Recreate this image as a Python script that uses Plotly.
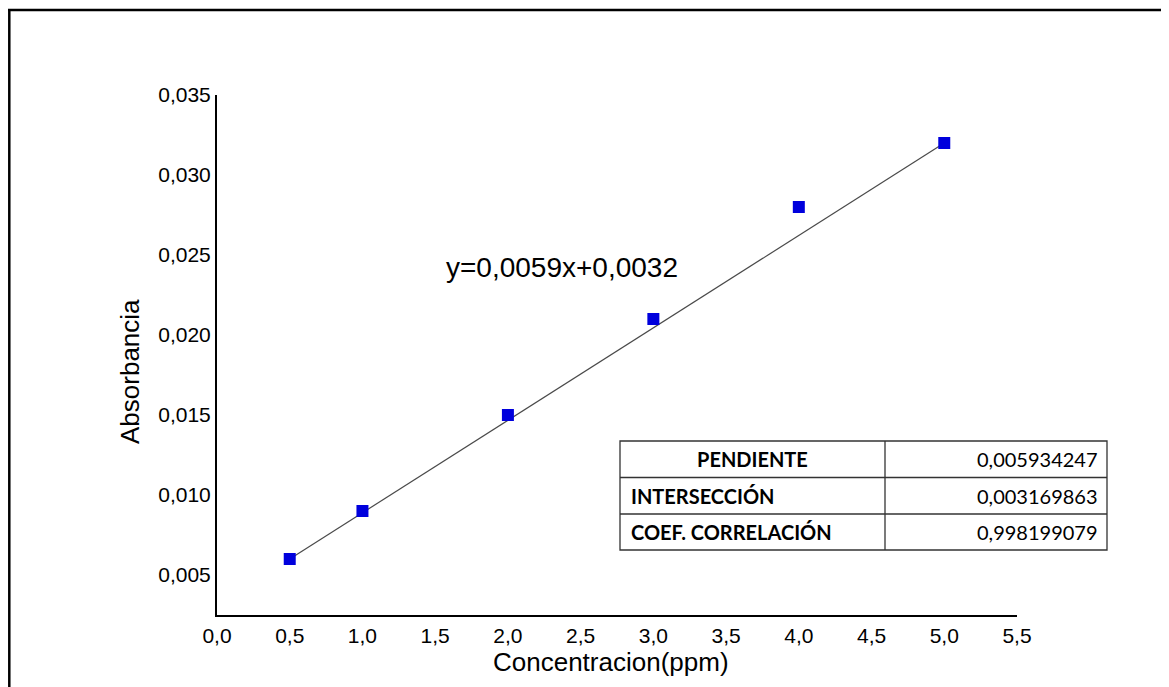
import plotly.graph_objects as go

# Data
concentration = [0.5, 1.0, 2.0, 3.0, 4.0, 5.0]
absorbance = [0.006, 0.009, 0.015, 0.021, 0.028, 0.032]
equation_label = "y=0,0059x+0,0032"
table_labels = ["PENDIENTE", "INTERSECCIÓN", "COEF. CORRELACIÓN"]
table_values = ["0,005934247", "0,003169863", "0,998199079"]
x_ticks = [0.0, 0.5, 1.0, 1.5, 2.0, 2.5, 3.0, 3.5, 4.0, 4.5, 5.0, 5.5]
y_ticks = [0.005, 0.010, 0.015, 0.020, 0.025, 0.030, 0.035]

OFF = 8  # page body margin
W, H = 1169 - OFF, 687 - OFF
# plot area in page pixels: x 217..1017, y 95..615
ML, MT = 217 - OFF, 95 - OFF
MR = W - (1017 - OFF)
MB = H - (615 - OFF)
PW, PH = W - ML - MR, H - MT - MB


def px(x):
    return (x - OFF - ML) / PW


def py(y):
    return (H - MB - (y - OFF)) / PH


fig = go.Figure()
fig.add_trace(go.Scatter(x=[concentration[0], concentration[-1]],
                         y=[absorbance[0], absorbance[-1]], mode="lines",
                         line=dict(color="#4a4a4a", width=1.2), showlegend=False,
                         hoverinfo="skip"))
fig.add_trace(go.Scatter(x=concentration, y=absorbance, mode="markers",
                         marker=dict(symbol="square", size=12, color="#0000dd",
                                     line=dict(width=0)),
                         showlegend=False))

shapes = []
annotations = []

# outer frame (top and left edges)
shapes.append(dict(type="line", xref="paper", yref="paper",
                   x0=px(6), x1=px(1175), y0=py(10), y1=py(10),
                   line=dict(color="black", width=2.5)))
shapes.append(dict(type="line", xref="paper", yref="paper",
                   x0=px(9.3), x1=px(9.3), y0=py(9), y1=py(700),
                   line=dict(color="black", width=2.5)))

# table
tl, tdiv, tr = 620, 885, 1107
rows = [441, 477.5, 514, 550]
tcol = "#333333"
shapes.append(dict(type="rect", xref="paper", yref="paper",
                   x0=px(tl), x1=px(tr), y0=py(rows[0]), y1=py(rows[-1]),
                   line=dict(color=tcol, width=1.3)))
shapes.append(dict(type="line", xref="paper", yref="paper",
                   x0=px(tdiv), x1=px(tdiv), y0=py(rows[0]), y1=py(rows[-1]),
                   line=dict(color=tcol, width=1.3)))
for r in rows[1:-1]:
    shapes.append(dict(type="line", xref="paper", yref="paper",
                       x0=px(tl), x1=px(tr), y0=py(r), y1=py(r),
                       line=dict(color=tcol, width=1.3)))
tfont = dict(family="Lato", size=20, color="black")
for i, (lab, val) in enumerate(zip(table_labels, table_values)):
    yc = py((rows[i] + rows[i + 1]) / 2)
    if i == 0:
        annotations.append(dict(text="<b>" + lab + "</b>", xref="paper", yref="paper",
                                x=px((tl + tdiv) / 2), y=yc, xanchor="center",
                                yanchor="middle", showarrow=False, font=tfont))
    else:
        annotations.append(dict(text="<b>" + lab + "</b>", xref="paper", yref="paper",
                                x=px(tl + 9), y=yc, xanchor="left",
                                yanchor="middle", showarrow=False, font=tfont))
    annotations.append(dict(text=val, xref="paper", yref="paper",
                            x=px(tr - 7), y=yc, xanchor="right", yanchor="middle",
                            showarrow=False, font=tfont))

# equation
annotations.append(dict(text=equation_label, xref="paper", yref="paper",
                        x=px(562), y=py(267), xanchor="center", yanchor="middle",
                        showarrow=False,
                        font=dict(family="Liberation Sans", size=28, color="black")))
# axis titles
annotations.append(dict(text="Concentracion(ppm)", xref="paper", yref="paper",
                        x=px(611), y=py(662), xanchor="center", yanchor="middle",
                        showarrow=False,
                        font=dict(family="Liberation Sans", size=26, color="black")))
annotations.append(dict(text="Absorbancia", xref="paper", yref="paper",
                        x=px(130), y=py(372), xanchor="center", yanchor="middle",
                        textangle=-90, showarrow=False,
                        font=dict(family="Liberation Sans", size=26, color="black")))

fig.update_layout(
    width=W, height=H,
    margin=dict(l=ML, r=MR, t=MT, b=MB, pad=0),
    paper_bgcolor="white", plot_bgcolor="white",
    separators=",.",
    shapes=shapes, annotations=annotations,
    font=dict(family="Liberation Sans", color="black"),
    xaxis=dict(range=[0, 5.5], tickvals=x_ticks, tickformat=".1f",
               showgrid=False, zeroline=False, showline=True,
               linecolor="black", linewidth=2, ticks="",
               tickfont=dict(size=21, family="Liberation Sans"),
               ticklabelstandoff=1),
    yaxis=dict(range=[0.0025, 0.035], tickvals=y_ticks, tickformat=".3f",
               showgrid=False, zeroline=False, showline=True,
               linecolor="black", linewidth=2, ticks="",
               tickfont=dict(size=21, family="Liberation Sans"),
               ticklabelstandoff=0),
)

fig.write_html("out.html")
